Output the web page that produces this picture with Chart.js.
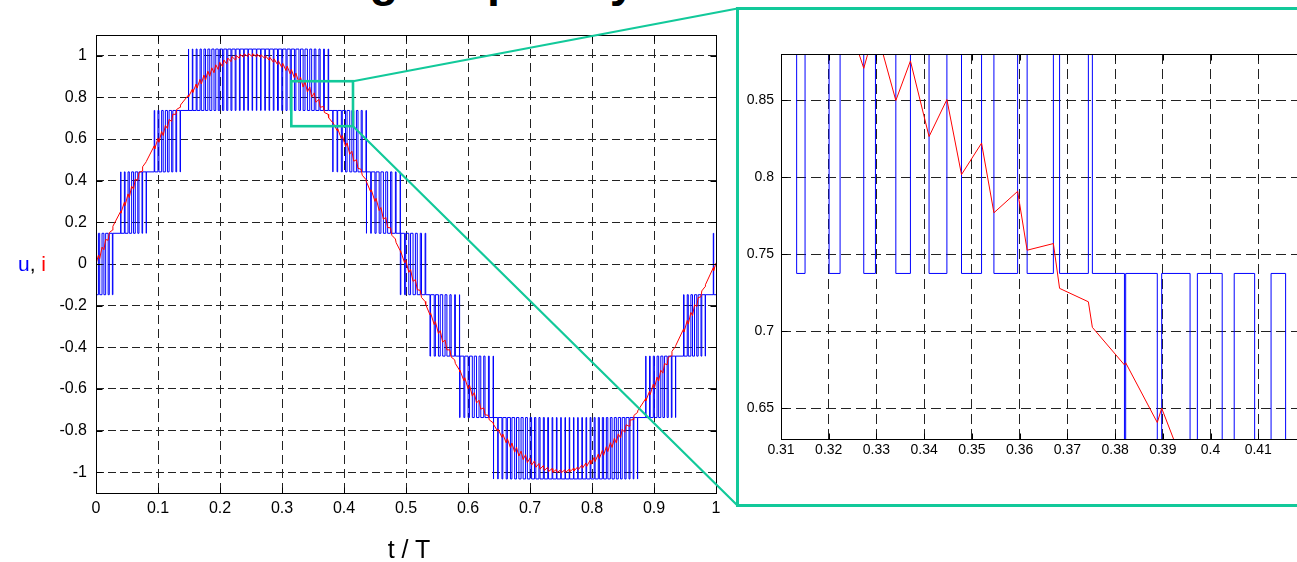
<!DOCTYPE html>
<html>
<head>
<meta charset="utf-8">
<script src="https://cdn.jsdelivr.net/npm/chart.js@4.4.1/dist/chart.umd.min.js"></script>
<style>
  html, body { margin: 0; padding: 0; overflow: hidden; background: #fff; }
  body { width: 1297px; height: 562px; position: relative; font-family: 'Liberation Sans', Arial, sans-serif; color: #000; }
  #title { position: absolute; left: 0; top: -44px; width: 812px; text-align: center; font-weight: bold; font-size: 47px; line-height: 47px; white-space: nowrap; }
  #main { position: absolute; left: 0; top: 0; }
  #frame { position: absolute; left: 736px; top: 7px; width: 600px; height: 494px; border: 3px solid #12c99a; background: #fff; }
  #inset { display: block; }
  #xlabel { position: absolute; left: 309px; width: 200px; top: 537px; text-align: center; font-size: 25px; line-height: 25px; }
  #ylabel { position: absolute; left: 18px; top: 253px; font-size: 21px; line-height: 21px; white-space: nowrap; }
</style>
</head>
<body>
<div id="title">Switching frequency</div>
<canvas id="main" width="1297" height="562"></canvas>
<div id="frame"><canvas id="inset" width="600" height="494"></canvas></div>
<div id="xlabel">t / T</div>
<div id="ylabel"><span style="color:#0000ff">u</span>, <span style="color:#ff0000">i</span></div>

<script>
// voltage levels of the inverter (index used in edgeLevel)
var levels = [-1.0325, -0.7375, -0.4425, -0.1475, 0.1475, 0.4425, 0.7375, 1.0325];

// switching instants t/T, level after each edge, current i at each edge
var edgeT = [
  0, 0.0039,
  0.00593, 0.00973, 0.01276, 0.01557, 0.01959, 0.02141, 0.02642, 0.02725,
  0.03992, 0.04008, 0.04578, 0.04691, 0.05164, 0.05374, 0.0575, 0.06057, 0.06338, 0.0674, 0.06928, 0.07423, 0.07519, 0.08106, 0.08116,
  0.0939, 0.09472, 0.09987, 0.10155, 0.10586, 0.10838, 0.11187, 0.11521, 0.11791, 0.12204, 0.12397, 0.12887, 0.13007, 0.1357, 0.13619,
  0.14918, 0.14936, 0.15536, 0.15619, 0.16157, 0.16302, 0.16782, 0.16985, 0.17411, 0.17668, 0.18043, 0.18351, 0.18679, 0.19034, 0.19319,
  0.19717, 0.19962, 0.204, 0.2061, 0.21083, 0.21262, 0.21766, 0.21918, 0.22449, 0.22577, 0.23132, 0.23241, 0.23815, 0.23909, 0.24498, 0.24582,
  0.25181, 0.25258, 0.25864, 0.25939, 0.26547, 0.26624, 0.2723, 0.27314, 0.27913, 0.28007, 0.28596, 0.28705, 0.29279, 0.29407, 0.29962, 0.30114,
  0.30645, 0.30824, 0.31328, 0.31504, 0.32008, 0.32238, 0.32734, 0.32979, 0.33406, 0.33712, 0.34102, 0.34476, 0.34782, 0.35202, 0.35461, 0.35958,
  0.36157, 0.36707, 0.36837, 0.3744, 0.37524,
  0.38196, 0.38222, 0.38884, 0.38976, 0.39571, 0.39724, 0.40244, 0.40496, 0.40924, 0.41268, 0.41573, 0.42005, 0.42256, 0.42772, 0.42939, 0.43541,
  0.43622, 0.4363, 0.44305, 0.44403, 0.44988, 0.45178, 0.45671, 0.45954, 0.46354, 0.46732, 0.47037, 0.47511, 0.4772, 0.48291, 0.48403, 0.49072,
  0.49086, 0.4917, 0.49769, 0.49952, 0.50452, 0.50735, 0.51135, 0.51517, 0.51818, 0.52299, 0.52501, 0.53081, 0.53184,
  0.53867, 0.53961, 0.5455, 0.54741, 0.55233, 0.5552, 0.55916, 0.56298, 0.56599, 0.57075, 0.57282, 0.5785, 0.57965, 0.58623,
  0.58648, 0.58712, 0.59331, 0.59481, 0.60014, 0.60249, 0.60697, 0.61015, 0.6138, 0.61777, 0.62063, 0.62537, 0.62746, 0.63294, 0.63429, 0.64049,
  0.64112, 0.64122, 0.64795, 0.64865, 0.65478, 0.65611, 0.66161, 0.66352, 0.66844, 0.6709, 0.67527, 0.67825, 0.6821, 0.68556, 0.68893, 0.69283,
  0.69576, 0.70006, 0.70259, 0.70725, 0.70942, 0.7144, 0.71625, 0.72151, 0.72308, 0.72858, 0.72991, 0.73561, 0.73674, 0.7426, 0.74357, 0.74955,
  0.7504, 0.75645, 0.75723, 0.76331, 0.76406, 0.77012, 0.77089, 0.7769, 0.77772, 0.78363, 0.78455, 0.79032, 0.79138, 0.79697, 0.79821, 0.80357,
  0.80504, 0.81014, 0.81187, 0.81667, 0.8187, 0.82315, 0.82553, 0.82959, 0.83236, 0.83599, 0.83919, 0.84236, 0.84602, 0.84869, 0.85285, 0.85498,
  0.85968, 0.86124, 0.86651, 0.86747, 0.87334, 0.87365,
  0.88665, 0.887, 0.89277, 0.89383, 0.89887, 0.90066, 0.90494, 0.90749, 0.91098, 0.91432, 0.917, 0.92115, 0.92299, 0.92798, 0.92896, 0.93481, 0.93491,
  0.94768, 0.94847, 0.95359, 0.9553, 0.95949, 0.96213, 0.96537, 0.96896, 0.97125, 0.97579, 0.97711, 0.98262, 0.98296,
  0.99564, 0.99628, 1
];

var edgeLevel = [
  3, 4,
  3, 4, 3, 4, 3, 4, 3, 4,
  5, 4, 5, 4, 5, 4, 5, 4, 5, 4, 5, 4, 5, 4, 5,
  6, 5, 6, 5, 6, 5, 6, 5, 6, 5, 6, 5, 6, 5, 6,
  7, 6, 7, 6, 7, 6, 7, 6, 7, 6, 7, 6, 7, 6, 7,
  6, 7, 6, 7, 6, 7, 6, 7, 6, 7, 6, 7, 6, 7, 6, 7,
  6, 7, 6, 7, 6, 7, 6, 7, 6, 7, 6, 7, 6, 7, 6, 7,
  6, 7, 6, 7, 6, 7, 6, 7, 6, 7, 6, 7, 6, 7, 6, 7,
  6, 7, 6, 7, 6,
  5, 6, 5, 6, 5, 6, 5, 6, 5, 6, 5, 6, 5, 6, 5, 6,
  4, 5, 4, 5, 4, 5, 4, 5, 4, 5, 4, 5, 4, 5, 4, 5,
  3, 4, 3, 4, 3, 4, 3, 4, 3, 4, 3, 4, 3,
  2, 3, 2, 3, 2, 3, 2, 3, 2, 3, 2, 3, 2, 3,
  1, 2, 1, 2, 1, 2, 1, 2, 1, 2, 1, 2, 1, 2, 1, 2,
  0, 1, 0, 1, 0, 1, 0, 1, 0, 1, 0, 1, 0, 1, 0, 1,
  0, 1, 0, 1, 0, 1, 0, 1, 0, 1, 0, 1, 0, 1, 0, 1,
  0, 1, 0, 1, 0, 1, 0, 1, 0, 1, 0, 1, 0, 1, 0, 1,
  0, 1, 0, 1, 0, 1, 0, 1, 0, 1, 0, 1, 0, 1, 0, 1,
  0, 1, 0, 1, 0, 1,
  2, 1, 2, 1, 2, 1, 2, 1, 2, 1, 2, 1, 2, 1, 2, 1, 2,
  3, 2, 3, 2, 3, 2, 3, 2, 3, 2, 3, 2, 3,
  4, 3, 3
];

var edgeI = [
  0, 0.042,
  0.0253, 0.0811, 0.0684, 0.1174, 0.1141, 0.1508, 0.1623, 0.1813,
  0.2537, 0.2442, 0.2967, 0.2806, 0.3367, 0.3191, 0.3736, 0.3597, 0.4075, 0.402, 0.4387, 0.4458, 0.467, 0.491, 0.4927,
  0.5672, 0.5525, 0.6033, 0.5846, 0.6362, 0.6172, 0.6664, 0.6509, 0.6944, 0.6846, 0.7197, 0.7185, 0.7425, 0.7528, 0.7634,
  0.8117, 0.8037, 0.8394, 0.8244, 0.8646, 0.8448, 0.8872, 0.8646, 0.9078, 0.8836, 0.9261, 0.9018, 0.9424, 0.9188, 0.9568,
  0.9344, 0.9693, 0.9487, 0.98, 0.9613, 0.9891, 0.9722, 0.9965, 0.9813, 1.0023, 0.9884, 1.0066, 0.9935, 1.0093, 0.9965, 1.0107,
  0.9974, 1.0104, 0.9961, 1.0087, 0.9928, 1.0053, 0.9872, 1.0004, 0.9796, 0.9939, 0.9699, 0.9857, 0.9582, 0.9758, 0.9446, 0.964,
  0.9292, 0.9504, 0.9134, 0.9343, 0.8936, 0.9173, 0.8707, 0.898, 0.8498, 0.8755, 0.8264, 0.8504, 0.8017, 0.8221, 0.7769, 0.7908,
  0.7526, 0.7569, 0.7278, 0.7191, 0.7025,
  0.6781, 0.6795, 0.6407, 0.65, 0.6022, 0.6168, 0.5641, 0.5815, 0.5275, 0.5418, 0.494, 0.5005, 0.4596, 0.4547, 0.4264, 0.4056,
  0.3933, 0.3948, 0.3462, 0.3565, 0.3007, 0.3153, 0.2568, 0.2713, 0.215, 0.224, 0.1753, 0.1736, 0.1379, 0.1201, 0.1029, 0.0636,
  0.0544, 0.0631, 0.0057, 0.0198, -0.0402, -0.0264, -0.0833, -0.0752, -0.1235, -0.1265, -0.1608, -0.1801, -0.1947,
  -0.2443, -0.2346, -0.2911, -0.2764, -0.3347, -0.3201, -0.3752, -0.3654, -0.4125, -0.4123, -0.4468, -0.4603, -0.4781, -0.5093,
  -0.5184, -0.5109, -0.5604, -0.5459, -0.5993, -0.5818, -0.6349, -0.618, -0.6674, -0.6544, -0.6972, -0.6909, -0.7242, -0.7272, -0.7486, -0.7626,
  -0.7711, -0.7705, -0.8033, -0.7939, -0.8326, -0.8168, -0.8588, -0.8388, -0.8826, -0.8601, -0.9038, -0.8801, -0.9226, -0.8989, -0.9392, -0.9163,
  -0.9537, -0.932, -0.9661, -0.946, -0.9765, -0.9583, -0.9851, -0.9685, -0.9919, -0.9768, -0.997, -0.9829, -1.0004, -0.987, -1.0023, -0.9889,
  -1.0026, -0.9886, -1.0014, -0.9861, -0.9986, -0.9815, -0.9943, -0.9748, -0.9885, -0.9662, -0.981, -0.9556, -0.9721, -0.9431, -0.9615, -0.9289,
  -0.9491, -0.9132, -0.935, -0.8959, -0.919, -0.8774, -0.9011, -0.8578, -0.8812, -0.8374, -0.8593, -0.816, -0.835, -0.7944, -0.8084, -0.7722,
  -0.779, -0.7499, -0.7475, -0.7278, -0.713, -0.7058,
  -0.6463, -0.6563, -0.6113, -0.6272, -0.5769, -0.5956, -0.5433, -0.5613, -0.5104, -0.5242, -0.4786, -0.4841, -0.4483, -0.4413, -0.4197, -0.3952, -0.3929,
  -0.3122, -0.3264, -0.2713, -0.2886, -0.2324, -0.2479, -0.1957, -0.2043, -0.1612, -0.1577, -0.1292, -0.1081, -0.0997,
  -0.0179, -0.0314, 0.005
];

// axes
var mainX = [0, 1];
var mainY = [-1.1, 1.1];
var mainXTicks = [0, 0.1, 0.2, 0.3, 0.4, 0.5, 0.6, 0.7, 0.8, 0.9, 1];
var mainYTicks = [-1, -0.8, -0.6, -0.4, -0.2, 0, 0.2, 0.4, 0.6, 0.8, 1];
var insetX = [0.31, 0.42];
var insetY = [0.63, 0.88];
var insetXTicks = [0.31, 0.32, 0.33, 0.34, 0.35, 0.36, 0.37, 0.38, 0.39, 0.4, 0.41];
var insetYTicks = [0.65, 0.7, 0.75, 0.8, 0.85];
// zoomed region marked on the main plot
var zoomX = [0.315, 0.4145];
var zoomY = [0.662, 0.878];

if (edgeT.length !== edgeLevel.length || edgeT.length !== edgeI.length) {
  console.log('length mismatch', edgeT.length, edgeLevel.length, edgeI.length);
}

Chart.defaults.font.family = "'Liberation Sans', Arial, sans-serif";
Chart.defaults.color = '#000';

var green = '#12c99a';

function fmt(v) { return String(Math.round(v * 100) / 100); }

function series() {
  return [
    {
      label: 'i',
      data: edgeT.map(function (t, j) { return { x: t, y: edgeI[j] }; }),
      borderColor: '#ff0000', borderWidth: 1, pointRadius: 0, tension: 0
    },
    {
      label: 'u',
      data: edgeT.map(function (t, j) { return { x: t, y: levels[edgeLevel[j]] }; }),
      borderColor: '#0000ff', borderWidth: 1, pointRadius: 0, stepped: 'before'
    }
  ];
}

function axis(range, ticks, fontSize, pad, dash, fit) {
  return {
    type: 'linear',
    min: range[0], max: range[1],
    afterBuildTicks: function (s) { s.ticks = ticks.map(function (v) { return { value: v }; }); },
    afterFit: fit,
    ticks: { font: { size: fontSize }, color: '#000', padding: pad, autoSkip: false, maxRotation: 0, callback: fmt },
    grid: { color: '#222', lineWidth: 1, drawTicks: false },
    border: { display: false, dash: dash }
  };
}

// black frame with inward tick marks
var boxPlugin = {
  id: 'box',
  afterDraw: function (chart) {
    var ctx = chart.ctx, a = chart.chartArea, sx = chart.scales.x, sy = chart.scales.y;
    var L = Math.round(a.left) + 0.5, R = Math.round(a.right) + 0.5;
    var T = Math.round(a.top) + 0.5, B = Math.round(a.bottom) + 0.5;
    ctx.save();
    ctx.strokeStyle = '#000';
    ctx.lineWidth = 1;
    ctx.setLineDash([]);
    ctx.strokeRect(L, T, R - L, B - T);
    ctx.beginPath();
    sx.ticks.forEach(function (tk) {
      var px = Math.round(sx.getPixelForValue(tk.value)) + 0.5;
      ctx.moveTo(px, B); ctx.lineTo(px, B - 6);
      ctx.moveTo(px, T); ctx.lineTo(px, T + 6);
    });
    sy.ticks.forEach(function (tk) {
      var py = Math.round(sy.getPixelForValue(tk.value)) + 0.5;
      ctx.moveTo(L, py); ctx.lineTo(L + 6, py);
      ctx.moveTo(R, py); ctx.lineTo(R - 6, py);
    });
    ctx.stroke();
    ctx.restore();
  }
};

// green zoom rectangle and the two connector lines to the inset frame
var zoomPlugin = {
  id: 'zoom',
  afterDraw: function (chart) {
    var ctx = chart.ctx, sx = chart.scales.x, sy = chart.scales.y;
    var x0 = sx.getPixelForValue(zoomX[0]), x1 = sx.getPixelForValue(zoomX[1]);
    var y0 = sy.getPixelForValue(zoomY[0]), y1 = sy.getPixelForValue(zoomY[1]);
    var f = document.getElementById('frame');
    var fx = f.offsetLeft + 1.5, fyTop = f.offsetTop + 1.5, fyBot = f.offsetTop + f.offsetHeight - 1.5;
    ctx.save();
    ctx.strokeStyle = green;
    ctx.lineWidth = 2.6;
    ctx.strokeRect(x0, y1, x1 - x0, y0 - y1);
    ctx.lineWidth = 2.2;
    ctx.beginPath();
    ctx.moveTo(x1, y1); ctx.lineTo(fx, fyTop);
    ctx.moveTo(x1, y0); ctx.lineTo(fx, fyBot);
    ctx.stroke();
    ctx.restore();
  }
};

var common = {
  responsive: false,
  animation: false,
  events: [],
  plugins: { legend: { display: false }, tooltip: { enabled: false }, title: { display: false } }
};

new Chart(document.getElementById('main'), {
  type: 'line',
  data: { datasets: series() },
  options: Object.assign({}, common, {
    layout: { padding: { left: 0, right: 581, top: 35, bottom: 0 } },
    scales: {
      x: axis(mainX, mainXTicks, 16, 6, [9, 5], function (s) { s.height = 69; }),
      y: axis(mainY, mainYTicks, 16, 9, [8, 4], function (s) { s.width = 96; })
    }
  }),
  plugins: [boxPlugin, zoomPlugin]
});

new Chart(document.getElementById('inset'), {
  type: 'line',
  data: { datasets: series() },
  options: Object.assign({}, common, {
    layout: { padding: { left: 0, right: 33, top: 44, bottom: 0 } },
    scales: {
      x: axis(insetX, insetXTicks, 14, 3, [10, 5], function (s) { s.height = 65; }),
      y: axis(insetY, insetYTicks, 14, 7, [10, 5], function (s) { s.width = 42; })
    }
  }),
  plugins: [boxPlugin]
});
</script>
</body>
</html>
